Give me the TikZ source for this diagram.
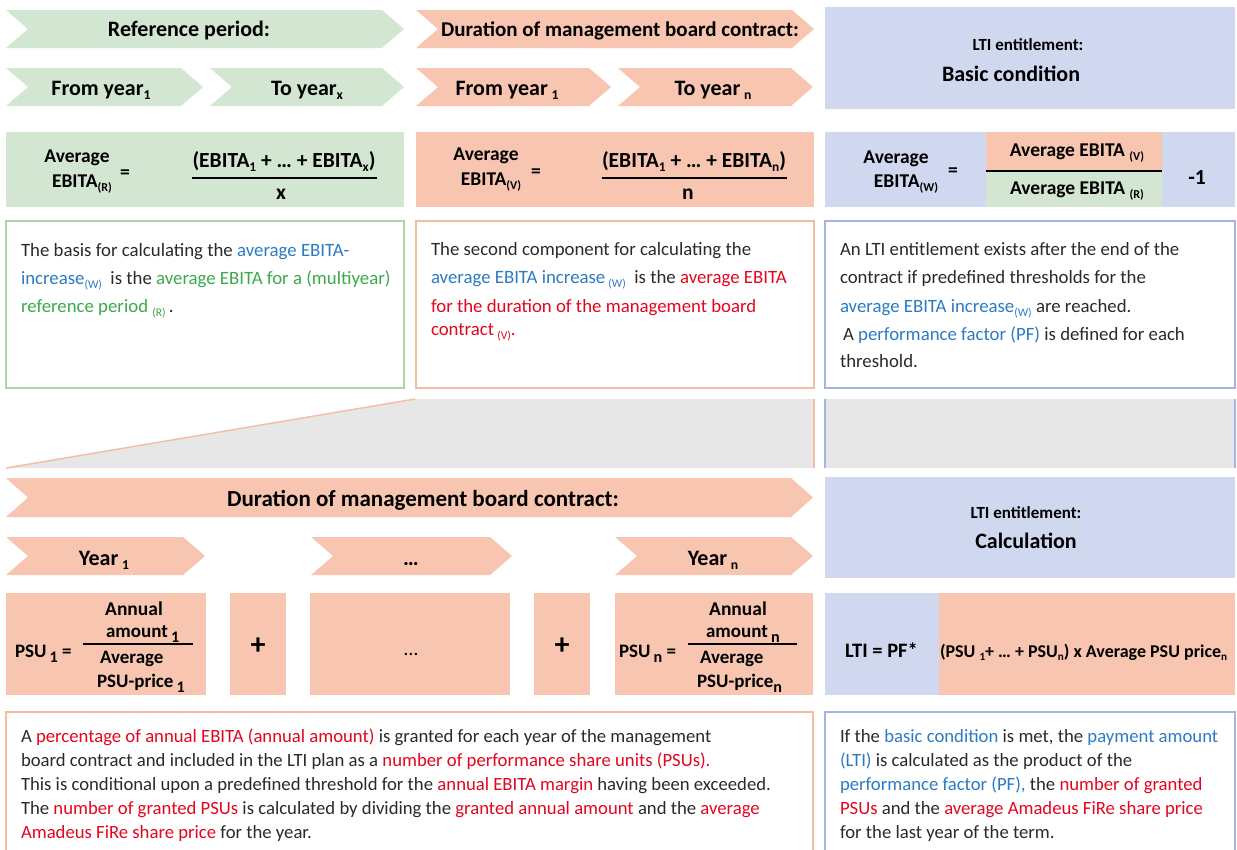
\documentclass[tikz,border=0pt]{standalone}
\usepackage{fontspec}
\setmainfont{Carlito}
\definecolor{gfill}{HTML}{D3E6D1}
\definecolor{sfill}{HTML}{F8C6B0}
\definecolor{bfill}{HTML}{CFD8EF}
\definecolor{gline}{HTML}{A9D6A3}
\definecolor{sline}{HTML}{F6BBA3}
\definecolor{bline}{HTML}{A5B5DF}
\definecolor{grayfill}{HTML}{E7E7E7}
\definecolor{tblue}{HTML}{2B7BC4}
\definecolor{tgreen}{HTML}{3BAA4B}
\definecolor{tred}{HTML}{E3061F}
\definecolor{tdark}{HTML}{2A2A2A}
\newcommand\sbs[1]{\raisebox{-0.45ex}{\scalebox{0.62}{#1}}}
\newcommand\sbl[1]{\raisebox{-0.55ex}{\scalebox{0.85}{#1}}}
\newcommand\fsz[1]{\fontsize{#1}{#1}\selectfont}
\newcommand\rd[1]{\textcolor{tred}{#1}}
\newcommand\bl[1]{\textcolor{tblue}{#1}}
\newcommand\gr[1]{\textcolor{tgreen}{#1}}
\newcommand\mychev[5]{\fill[#1] (#2,#4) -- ({#3-22},#4) -- (#3,{(#4+#5)/2}) -- ({#3-22},#5) -- (#2,#5) -- ({#2+22},{(#4+#5)/2}) -- cycle;}
\tikzset{
  every node/.style={inner sep=0pt, outer sep=0pt},
  hd/.style={font=\fsz{22}\bfseries, anchor=base, text=black},
  hdsmall/.style={font=\fsz{17}\bfseries, anchor=base, text=black},
  fm/.style={font=\fsz{19.5}\bfseries, anchor=base, text=black},
  num/.style={font=\fsz{21.5}\bfseries, anchor=base, text=black},
  psu/.style={font=\fsz{19}\bfseries, anchor=base west, text=black},
  body/.style={font=\fsz{18.8}, anchor=base west, text=tdark},
  small/.style={font=\fsz{18.7}, anchor=base west, text=tdark},
  frac/.style={line width=1.3pt, draw=black},
  gbox/.style={draw=gline, line width=1.6pt, fill=white},
  sbox/.style={draw=sline, line width=1.6pt, fill=white},
  bbox/.style={draw=bline, line width=1.6pt, fill=white},
}
\begin{document}
\begin{tikzpicture}[x=1pt,y=-1pt]
\clip (0,0) rectangle (1237,849);
\fill[white] (0,0) rectangle (1237,849);
% ---------- top header row ----------
\mychev{gfill}{6}{404}{10}{48}
\mychev{sfill}{416}{814}{10}{48}
\fill[bfill] (825,7) rectangle (1235,109);
\node[hd] (refp) at (189,36) {Reference period:};
\node[hd, font=\fsz{21}\bfseries] (dur1) at (620,36) {Duration of management board contract:};
\node[hdsmall] (lti1) at (1028,50) {LTI entitlement:};
\node[hd] (basic) at (1011,81) {Basic condition};
% ---------- second row ----------
\mychev{gfill}{6}{203}{68}{106}
\mychev{gfill}{210}{404}{68}{106}
\mychev{sfill}{416}{611}{68}{106}
\mychev{sfill}{618}{813}{68}{106}
\node[hd] (fy1) at (101,95) {From year\sbs{1}};
\node[hd] (tyx) at (307,95) {To year\sbs{x}};
\node[hd] (fy2) at (507,95) {From year\,\sbs{1}};
\node[hd] (tyn) at (713,95) {To year\,\sbs{n}};
% ---------- formula row ----------
\fill[gfill] (6,132) rectangle (404,207);
\fill[sfill] (416,132) rectangle (814,207);
\fill[bfill] (825,132) rectangle (1235,207);
\fill[sfill] (986,132) rectangle (1162,171);
\fill[gfill] (986,171) rectangle (1162,207);
\draw[line width=1.2pt] (986,171) -- (1162,171);
\node[fm] (avR) at (77,162) {Average};
\node[fm] (ebR) at (82,187) {EBITA\sbs{(R)}};
\node[fm] (eqR) at (125,178) {=};
\node[num] (numR) at (284,167) {(EBITA\sbs{1} + … + EBITA\sbs{x})};
\draw[frac] (192,178) -- (377,178);
\node[num] (denR) at (281,199) {x};
\node[fm] (avV) at (486,160) {Average};
\node[fm] (ebV) at (491,185) {EBITA\sbs{(V)}};
\node[fm] (eqV) at (536,177) {=};
\node[num] (numV) at (694,167) {(EBITA\sbs{1} + … + EBITA\sbs{n})};
\draw[frac] (602,178) -- (787,178);
\node[num] (denV) at (688,199) {n};
\node[fm] (avW) at (896,163) {Average};
\node[fm] (ebW) at (906,187) {EBITA\sbs{(W)}};
\node[fm] (eqW) at (953,176) {=};
\node[fm] (fracV) at (1077,156) {Average EBITA \sbs{(V)}};
\node[fm] (fracR) at (1077,194) {Average EBITA \sbs{(R)}};
\node[num] (m1) at (1197,184) {-1};
% ---------- description boxes ----------
\draw[gbox] (6,221) rectangle (404,388);
\draw[sbox] (416,221) rectangle (814,388);
\draw[bbox] (825,221) rectangle (1235,388);
\node[body] (a1) at (21,256) {The basis for calculating the \bl{average EBITA-}};
\node[body] (a2) at (21,284) {\bl{increase\sbs{(W)}}\ \ is the \gr{average EBITA for a (multiyear)}};
\node[body] (a3) at (21,312) {\gr{reference period \sbs{(R)}}\,.};
\node[body] (b1) at (431,255) {The second component for calculating the};
\node[body] (b2) at (431,283) {\bl{average EBITA increase\,\sbs{(W)}}\ \ is the \rd{average EBITA}};
\node[body] (b3) at (431,312) {\rd{for the duration of the management board}};
\node[body] (b4) at (431,335) {\rd{contract\,\sbs{(V)}.}};
\node[body] (c1) at (840,255) {An LTI entitlement exists after the end of the};
\node[body] (c2) at (840,283) {contract if predefined thresholds for the};
\node[body] (c3) at (840,312) {\bl{average EBITA increase\sbs{(W)}} are reached.};
\node[body] (c4) at (843,340) {A \bl{performance factor (PF)} is defined for each};
\node[body] (c5) at (840,367) {threshold.};
% ---------- gray transition ----------
\fill[grayfill] (6,468) -- (415,399) -- (814,399) -- (814,468) -- cycle;
\draw[sline, line width=1.4pt] (6,468) -- (415,399);
\draw[sline, line width=1.4pt] (814,399) -- (814,468);
\fill[grayfill] (825,399) rectangle (1235,468);
\draw[bline, line width=1.4pt] (825,399) -- (825,468);
\draw[bline, line width=1.4pt] (1235,399) -- (1235,468);
% ---------- lower header ----------
\mychev{sfill}{6}{813}{478}{517}
\fill[bfill] (825,477) rectangle (1235,578);
\node[hd, font=\fsz{23}\bfseries] (dur2) at (423,506) {Duration of management board contract:};
\node[hdsmall] (lti2) at (1026,518) {LTI entitlement:};
\node[hd] (calc) at (1026,548) {Calculation};
\mychev{sfill}{6}{205}{537}{575}
\mychev{sfill}{311}{512}{537}{575}
\mychev{sfill}{615}{813}{537}{575}
\node[hd] (yr1) at (104,565) {Year\,\sbs{1}};
\node[hd] (yrd) at (411,565) {…};
\node[hd] (yrn) at (713,565) {Year\,\sbs{n}};
% ---------- PSU row ----------
\fill[sfill] (6,593) rectangle (206,695);
\fill[sfill] (230,593) rectangle (286,695);
\fill[sfill] (310,593) rectangle (510,695);
\fill[sfill] (534,593) rectangle (590,695);
\fill[sfill] (615,593) rectangle (813,695);
\fill[bfill] (825,593) rectangle (939,695);
\fill[sfill] (939,593) rectangle (1235,695);
\node[psu] (p1) at (15,657) {PSU\,\sbl{1} =};
\draw[frac] (83,644) -- (193,644);
\node[fm] (p1a) at (134,615) {Annual};
\node[psu] (p1b) at (106,637) {amount\,\sbl{1}};
\node[psu] (p1c) at (100,663) {Average};
\node[psu] (p1d) at (97,687) {PSU-price\,\sbl{1}};
\node[font=\fsz{30}\bfseries] (plus1) at (258,646) {+};
\node[font=\fsz{20}, anchor=base] (dots) at (411,655) {…};
\node[font=\fsz{30}\bfseries] (plus2) at (562,646) {+};
\node[psu] (pn) at (619,657) {PSU\,\sbl{n} =};
\draw[frac] (688,644) -- (797,644);
\node[fm] (pna) at (738,615) {Annual};
\node[psu] (pnb) at (706,637) {amount\,\sbl{n}};
\node[psu] (pnc) at (700,663) {Average};
\node[psu] (pnd) at (697,687) {PSU-price\sbl{n}};
\node[psu, font=\fsz{20.5}\bfseries] (lti) at (845,657) {LTI = PF*};
\node[psu, font=\fsz{18}\bfseries] (ltif) at (940,657) {(PSU \sbs{1}+ … + PSU\sbs{n}) x Average PSU price\sbs{n}};
% ---------- bottom description boxes ----------
\draw[sbox] (6,712) rectangle (813,870);
\draw[bbox] (825,712) rectangle (1235,870);
\node[small] (d1) at (21,742) {A \rd{percentage of annual EBITA (annual amount)} is granted for each year of the management};
\node[small] (d2) at (21,766) {board contract and included in the LTI plan as a \rd{number of performance share units (PSUs).}};
\node[small] (d3) at (21,790) {This is conditional upon a predefined threshold for the \rd{annual EBITA margin} having been exceeded.};
\node[small] (d4) at (21,814) {The \rd{number of granted PSUs} is calculated by dividing the \rd{granted annual amount} and the \rd{average}};
\node[small] (d5) at (21,838) {\rd{Amadeus FiRe share price} for the year.};
\node[small] (e1) at (840,742) {If the \bl{basic condition} is met, the \bl{payment amount}};
\node[small] (e2) at (840,766) {\bl{(LTI)} is calculated as the product of the};
\node[small] (e3) at (840,790) {\bl{performance factor (PF),} the \rd{number of granted}};
\node[small] (e4) at (840,814) {\rd{PSUs} and the \rd{average Amadeus FiRe share price}};
\node[small] (e5) at (840,838) {for the last year of the term.};
\end{tikzpicture}
\end{document}
